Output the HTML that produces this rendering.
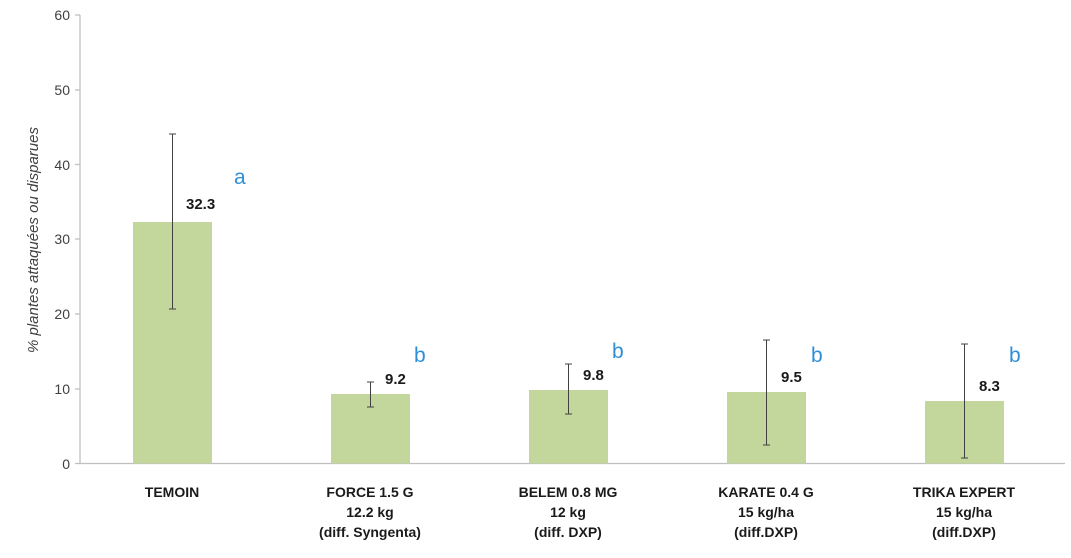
<!DOCTYPE html>
<html><head><meta charset="utf-8"><style>
body{margin:0;background:#fff;}
svg{display:block;font-family:"Liberation Sans",sans-serif;}
</style></head><body>
<svg width="1071" height="558" viewBox="0 0 1071 558">
<g stroke="#bfbfbf" stroke-width="1.3">
<line x1="80" y1="15" x2="80" y2="464"/>
<line x1="80" y1="463.5" x2="1065" y2="463.5"/>
<line x1="75" y1="15" x2="80" y2="15"/>
<line x1="75" y1="90" x2="80" y2="90"/>
<line x1="75" y1="164.5" x2="80" y2="164.5"/>
<line x1="75" y1="239" x2="80" y2="239"/>
<line x1="75" y1="314" x2="80" y2="314"/>
<line x1="75" y1="389" x2="80" y2="389"/>
<line x1="75" y1="463.5" x2="80" y2="463.5"/>
</g>
<g font-size="14" fill="#404040" text-anchor="end">
<text x="70" y="20">60</text><text x="70" y="95">50</text><text x="70" y="170">40</text>
<text x="70" y="244">30</text><text x="70" y="319">20</text><text x="70" y="394">10</text><text x="70" y="469">0</text>
</g>
<text transform="translate(38,240) rotate(-90)" text-anchor="middle" font-size="15" font-style="italic" fill="#404040">% plantes attaquées ou disparues</text>
<g fill="#c3d69b">
<rect x="133" y="222" width="79" height="241.5"/>
<rect x="331" y="394" width="79" height="69.5"/>
<rect x="529" y="390" width="79" height="73.5"/>
<rect x="727" y="392" width="79" height="71.5"/>
<rect x="925" y="401" width="79" height="62.5"/>
</g>
<g stroke="#404040" stroke-width="1">
<line x1="172.5" y1="134" x2="172.5" y2="309"/><line x1="169" y1="134" x2="176" y2="134"/><line x1="169" y1="309" x2="176" y2="309"/>
<line x1="370.5" y1="382" x2="370.5" y2="407"/><line x1="367" y1="382" x2="374" y2="382"/><line x1="367" y1="407" x2="374" y2="407"/>
<line x1="568.5" y1="364" x2="568.5" y2="414"/><line x1="565" y1="364" x2="572" y2="364"/><line x1="565" y1="414" x2="572" y2="414"/>
<line x1="766.5" y1="340" x2="766.5" y2="445"/><line x1="763" y1="340" x2="770" y2="340"/><line x1="763" y1="445" x2="770" y2="445"/>
<line x1="964.5" y1="344" x2="964.5" y2="458"/><line x1="961" y1="344" x2="968" y2="344"/><line x1="961" y1="458" x2="968" y2="458"/>
</g>
<g font-size="15" font-weight="bold" fill="#1a1a1a">
<text x="186" y="209">32.3</text>
<text x="385" y="384">9.2</text>
<text x="583" y="380">9.8</text>
<text x="781" y="382">9.5</text>
<text x="979" y="391">8.3</text>
</g>
<g font-size="21" fill="#2e8fd8">
<text x="234" y="184">a</text>
<text x="414" y="362">b</text>
<text x="612" y="358">b</text>
<text x="811" y="362">b</text>
<text x="1009" y="362">b</text>
</g>
<g font-size="14" font-weight="bold" fill="#1a1a1a" text-anchor="middle">
<text x="172" y="497">TEMOIN</text>
<text x="370" y="497">FORCE 1.5 G</text><text x="370" y="517">12.2 kg</text><text x="370" y="537">(diff. Syngenta)</text>
<text x="568" y="497">BELEM 0.8 MG</text><text x="568" y="517">12 kg</text><text x="568" y="537">(diff. DXP)</text>
<text x="766" y="497">KARATE 0.4 G</text><text x="766" y="517">15 kg/ha</text><text x="766" y="537">(diff.DXP)</text>
<text x="964" y="497">TRIKA EXPERT</text><text x="964" y="517">15 kg/ha</text><text x="964" y="537">(diff.DXP)</text>
</g>
</svg>
</body></html>
